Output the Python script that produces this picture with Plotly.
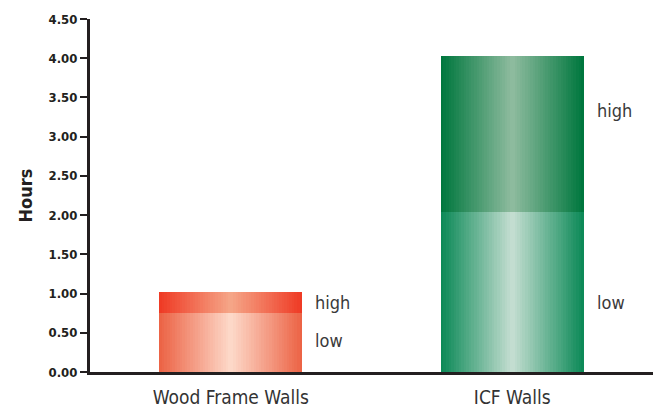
import plotly.graph_objects as go

categories = ["Wood Frame Walls", "ICF Walls"]
low_values = [0.75, 2.04]
high_values = [0.27, 1.99]
segment_names = ["low", "high"]
tick_vals = [0, 0.5, 1.0, 1.5, 2.0, 2.5, 3.0, 3.5, 4.0, 4.5]
tick_text = ["0.00", "0.50", "1.00", "1.50", "2.00", "2.50", "3.00", "3.50", "4.00", "4.50"]

# edge / centre colours for gradient per category
low_edge = [(236, 100, 70), (13, 138, 88)]
low_center = [(253, 216, 200), (195, 221, 208)]
high_edge = [(239, 59, 37), (0, 119, 62)]
high_center = [(245, 165, 135), (141, 187, 158)]

FONT = "DejaVu Sans Condensed, Liberation Sans Narrow, sans-serif"
BAR_W = 0.507
N = 28

def mix(a, b, t):
    return "rgb(%d,%d,%d)" % tuple(int(round(a[i] + (b[i] - a[i]) * t)) for i in range(3))

fig = go.Figure()
x_idx = list(range(len(categories)))
bases_low = [0 for _ in low_values]
bases_high = list(low_values)

for vals, bases, edge, center in [
    (low_values, bases_low, low_edge, low_center),
    (high_values, bases_high, high_edge, high_center),
]:
    for k in range(N):
        t = k / (N - 1)
        w = BAR_W * (1 - k / N)
        fig.add_trace(go.Bar(
            x=x_idx, y=vals, base=bases, width=w,
            marker=dict(color=[mix(edge[i], center[i], t) for i in range(len(categories))],
                        line=dict(width=0)),
            showlegend=False, hoverinfo="skip",
        ))

# label placement (data units)
label_pos = {
    0: {"high": 0.88, "low": 0.40},
    1: {"high": 3.33, "low": 0.89},
}
annotations = []
for i in x_idx:
    for name in ["high", "low"]:
        annotations.append(dict(
            x=i + BAR_W / 2, y=label_pos[i][name], xref="x", yref="y",
            text=name, showarrow=False, xanchor="left", yanchor="middle", xshift=11,
            font=dict(family=FONT, size=18, color="#3a3a3a"),
        ))

fig.update_layout(
    width=654, height=409,
    margin=dict(l=90, r=1, t=19, b=37),
    paper_bgcolor="white", plot_bgcolor="white",
    barmode="overlay", bargap=0,
    annotations=annotations,
    xaxis=dict(
        range=[-0.5, 1.5], tickvals=x_idx, ticktext=categories,
        showline=True, linecolor="#231f20", linewidth=3, ticks="",
        showgrid=False, zeroline=False, ticklabelstandoff=6,
        tickfont=dict(family=FONT, size=19, color="#333333"),
    ),
    yaxis=dict(
        range=[0, 4.5], tickvals=tick_vals, ticktext=tick_text,
        showline=True, linecolor="#231f20", linewidth=3,
        ticks="outside", ticklen=7, tickwidth=2, tickcolor="#231f20",
        showgrid=False, zeroline=False,
        tickfont=dict(family=FONT, size=13, color="#231f20", weight="bold"),
        title=dict(text="<b>Hours</b>", font=dict(family=FONT, size=18, color="#231f20"), standoff=12),
    ),
)

fig.write_html("out.html")
